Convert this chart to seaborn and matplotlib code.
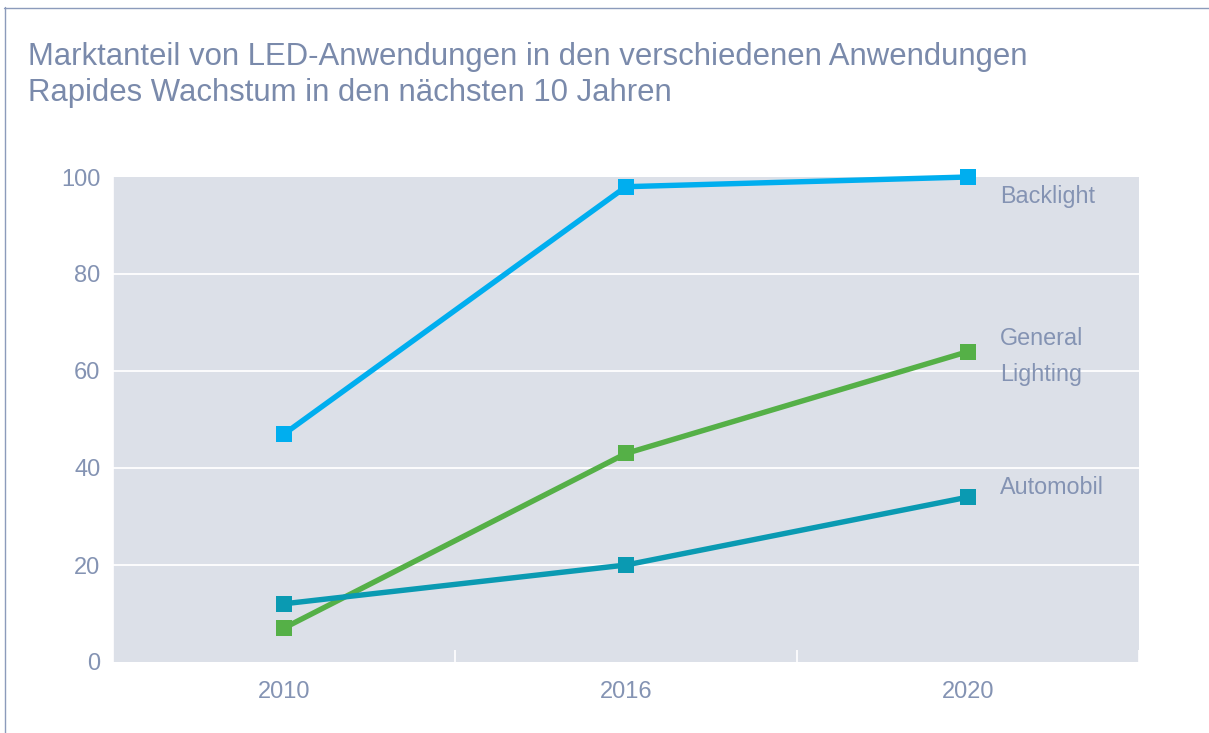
import matplotlib
matplotlib.use("Agg")
import matplotlib.pyplot as plt
from matplotlib.lines import Line2D
import seaborn as sns
import pandas as pd

years = ["2010", "2016", "2020"]
series_names = ["Backlight", "General Lighting", "Automobil"]
backlight = [47, 98, 100]
general_lighting = [7, 43, 64]
automobil = [12, 20, 34]
series_labels = ["Backlight", "General\nLighting", "Automobil"]
y_ticks = [0, 20, 40, 60, 80, 100]
title_lines = ["Marktanteil von LED-Anwendungen in den verschiedenen Anwendungen",
               "Rapides Wachstum in den nächsten 10 Jahren"]

colors = ["#00AEEF", "#55B047", "#0A9AB2"]
text_col = "#8493B3"
title_col = "#7A8AAB"
bg_col = "#DCE0E8"

rows = []
for name, vals in zip(series_names, [backlight, general_lighting, automobil]):
    for y, v in zip(years, vals):
        rows.append({"year": y, "value": v, "series": name})
df = pd.DataFrame(rows)

sns.set_theme(style="white")
plt.rcParams["font.family"] = ["Liberation Sans", "DejaVu Sans"]

fig = plt.figure(figsize=(12.09, 7.33), dpi=100)
ax = fig.add_axes([113/1209, 1-662/733, (1139-113)/1209, (662-177)/733])
ax.set_facecolor(bg_col)

sns.pointplot(data=df, x="year", y="value", hue="series", order=years,
              hue_order=series_names, palette=colors, markers="s",
              linestyles="-", ax=ax, legend=False, markersize=11.5,
              linewidth=3.9, errorbar=None)
for ln in ax.lines:
    ln.set_clip_on(False)
    ln.set_markeredgewidth(0)

ax.set_xlim(-0.5, 2.5)
ax.set_ylim(0, 100)
ax.set_yticks(y_ticks)
ax.set_yticklabels([str(t) for t in y_ticks])
for t in [20, 40, 60, 80]:
    ax.axhline(t, color="white", linewidth=1.3, zorder=0.5)
for s in ax.spines.values():
    s.set_visible(False)
ax.spines["left"].set_visible(True)
ax.spines["left"].set_color("white")
ax.spines["left"].set_linewidth(1.2)
ax.set_xlabel("")
ax.set_ylabel("")
ax.tick_params(axis="both", which="major", length=0, labelsize=17,
               labelcolor=text_col)
ax.tick_params(axis="x", pad=14)
ax.tick_params(axis="y", pad=9)
ax.set_xticks([0.5, 1.5, 2.5], minor=True)
ax.tick_params(axis="x", which="minor", direction="in", length=9,
               color="white", width=1.2, bottom=True)

# Series labels at right (one line each, centred on the given value)
label_lines = [("Backlight", 95.9), ("General", 66.8), ("Lighting", 59.2),
               ("Automobil", 35.9)]
for lab, yv in label_lines:
    ax.text(2.094, yv, lab, fontsize=16.8, color=text_col, va="center",
            ha="left")

fig.text(28/1209, 1-65/733, title_lines[0], fontsize=22.4, color=title_col,
         ha="left", va="baseline")
fig.text(28/1209, 1-101/733, title_lines[1], fontsize=22.4, color=title_col,
         ha="left", va="baseline")

border = "#8C9BBB"
fig.add_artist(Line2D([4/1209, 1.0], [1-7.5/733, 1-7.5/733], color=border,
                      linewidth=1.0, transform=fig.transFigure))
fig.add_artist(Line2D([4.5/1209, 4.5/1209], [1-7/733, 0], color=border,
                      linewidth=1.0, transform=fig.transFigure))

fig.savefig("out.png", dpi=100)
